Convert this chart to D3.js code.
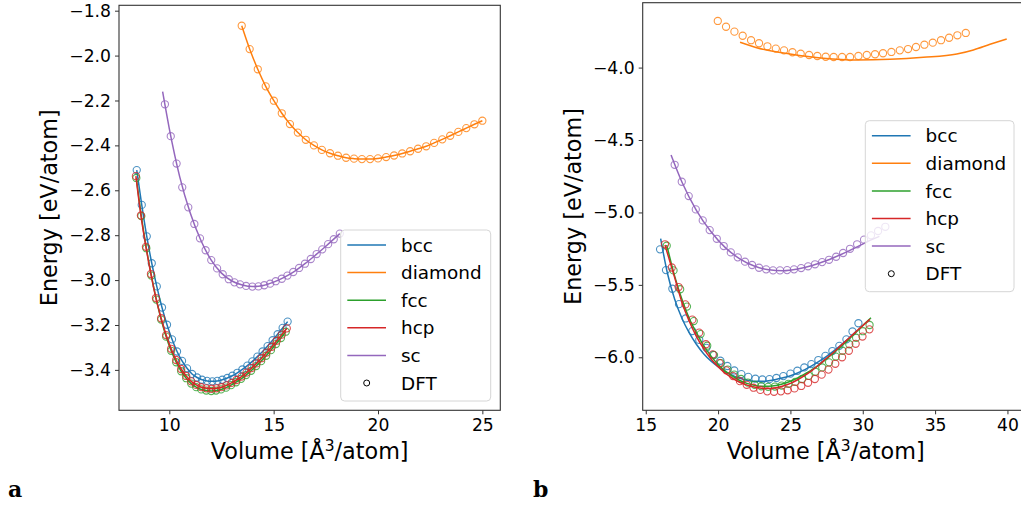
<!DOCTYPE html>
<html>
<head>
<meta charset="utf-8">
<script src="https://cdn.jsdelivr.net/npm/d3@7"></script>
<style>
  body { margin: 0; background: #fff; }
  text { font-family: "DejaVu Sans", sans-serif; fill: #000; }
</style>
</head>
<body>
<div id="chart"></div>
<script>
// structures + colours (matplotlib tab10)
var structures = ["bcc", "diamond", "fcc", "hcp", "sc"];
var colors = ["#1f77b4", "#ff7f0e", "#2ca02c", "#d62728", "#9467bd"];

// ---- panel a : DFT points ----
var aBccV = [8.44,8.68,8.92,9.16,9.40,9.65,9.89,10.13,10.37,10.61,10.85,11.09,11.33,11.57,11.81,12.06,12.30,12.54,12.78,13.02,13.26,13.50,13.74,13.98,14.22,14.47,14.71,14.95,15.19,15.43,15.67];
var aBccE = [-2.510,-2.665,-2.805,-2.925,-3.028,-3.122,-3.199,-3.264,-3.318,-3.360,-3.393,-3.418,-3.434,-3.444,-3.449,-3.451,-3.449,-3.444,-3.436,-3.426,-3.413,-3.398,-3.381,-3.362,-3.341,-3.318,-3.294,-3.268,-3.241,-3.213,-3.185];
var aDiamondV = [13.47,13.85,14.24,14.62,15.01,15.39,15.78,16.16,16.54,16.93,17.31,17.70,18.08,18.47,18.85,19.23,19.62,20.00,20.39,20.77,21.16,21.54,21.92,22.31,22.69,23.08,23.46,23.85,24.23,24.62,25.00];
var aDiamondE = [-1.867,-1.971,-2.061,-2.137,-2.201,-2.257,-2.305,-2.343,-2.375,-2.400,-2.420,-2.435,-2.446,-2.455,-2.459,-2.461,-2.461,-2.458,-2.452,-2.445,-2.436,-2.426,-2.415,-2.404,-2.389,-2.373,-2.357,-2.340,-2.323,-2.306,-2.290];
var aFccV = [8.42,8.66,8.90,9.14,9.38,9.61,9.85,10.09,10.33,10.57,10.81,11.05,11.29,11.53,11.77,12.01,12.24,12.48,12.72,12.96,13.20,13.44,13.68,13.92,14.16,14.40,14.64,14.87,15.11,15.35,15.58];
var aFccE = [-2.545,-2.715,-2.858,-2.980,-3.087,-3.176,-3.252,-3.315,-3.366,-3.406,-3.437,-3.461,-3.477,-3.487,-3.492,-3.494,-3.492,-3.487,-3.479,-3.468,-3.455,-3.440,-3.423,-3.404,-3.383,-3.361,-3.337,-3.312,-3.285,-3.258,-3.230];
var aHcpV = [8.40,8.64,8.88,9.12,9.36,9.61,9.85,10.09,10.33,10.57,10.81,11.05,11.29,11.53,11.77,12.02,12.26,12.50,12.74,12.98,13.22,13.46,13.70,13.94,14.18,14.42,14.66,14.91,15.15,15.39,15.63];
var aHcpE = [-2.537,-2.712,-2.852,-2.973,-3.080,-3.170,-3.245,-3.306,-3.356,-3.396,-3.427,-3.451,-3.467,-3.477,-3.482,-3.484,-3.482,-3.477,-3.469,-3.458,-3.445,-3.430,-3.412,-3.392,-3.371,-3.348,-3.323,-3.297,-3.270,-3.243,-3.215];
var aScV = [9.79,10.07,10.35,10.62,10.91,11.20,11.47,11.74,12.01,12.29,12.56,12.85,13.12,13.39,13.68,13.98,14.27,14.55,14.83,15.10,15.39,15.66,15.94,16.22,16.50,16.78,17.06,17.33,17.61,17.88,18.17];
var aScE = [-2.217,-2.359,-2.481,-2.587,-2.676,-2.750,-2.814,-2.867,-2.911,-2.948,-2.974,-2.996,-3.010,-3.019,-3.026,-3.029,-3.028,-3.023,-3.016,-3.005,-2.994,-2.980,-2.964,-2.946,-2.927,-2.906,-2.884,-2.863,-2.840,-2.818,-2.793];
// panel a : sc fit reaches a bit beyond the first point
var aScFitV = [9.68,10.0,10.5,11.0,11.5,12.0,12.5,13.0,13.5,14.0,14.5,15.0,15.5,16.0,16.5,17.0,17.5,18.17];
var aScFitE = [-2.161,-2.325,-2.540,-2.700,-2.820,-2.910,-2.969,-3.004,-3.022,-3.029,-3.024,-3.009,-2.988,-2.961,-2.927,-2.889,-2.849,-2.793];

// ---- panel b : DFT points ----
var bBccV = [15.99,16.40,16.84,17.30,17.76,18.22,18.70,19.19,19.67,20.16,20.64,21.12,21.61,22.09,22.58,23.06,23.55,24.03,24.51,25.00,25.48,25.96,26.45,26.93,27.42,27.90,28.38,28.87,29.29,29.70];
var bBccE = [-5.255,-5.398,-5.527,-5.633,-5.732,-5.819,-5.880,-5.935,-5.983,-6.024,-6.060,-6.091,-6.116,-6.135,-6.148,-6.153,-6.151,-6.143,-6.130,-6.113,-6.093,-6.070,-6.047,-6.019,-5.990,-5.957,-5.921,-5.876,-5.822,-5.765];
var bDiamondV = [19.98,20.55,21.13,21.70,22.28,22.83,23.41,23.99,24.56,25.14,25.71,26.29,26.86,27.44,27.99,28.57,29.12,29.70,30.28,30.85,31.40,31.98,32.56,33.13,33.68,34.26,34.84,35.41,35.97,36.54,37.12];
var bDiamondE = [-3.678,-3.718,-3.752,-3.780,-3.811,-3.832,-3.853,-3.869,-3.881,-3.894,-3.904,-3.913,-3.920,-3.925,-3.927,-3.927,-3.927,-3.920,-3.913,-3.908,-3.901,-3.892,-3.881,-3.872,-3.858,-3.842,-3.828,-3.811,-3.794,-3.777,-3.761];
var bFccV = [16.45,16.92,17.38,17.85,18.32,18.79,19.25,19.72,20.19,20.66,21.12,21.59,22.06,22.53,22.99,23.46,23.93,24.40,24.86,25.33,25.80,26.27,26.73,27.20,27.67,28.14,28.60,29.07,29.54,30.01,30.47];
var bFccE = [-5.230,-5.400,-5.530,-5.650,-5.750,-5.840,-5.920,-5.985,-6.040,-6.085,-6.120,-6.150,-6.175,-6.190,-6.200,-6.204,-6.202,-6.195,-6.183,-6.170,-6.150,-6.128,-6.100,-6.070,-6.035,-5.995,-5.955,-5.910,-5.865,-5.820,-5.777];
var bHcpV = [16.33,16.80,17.27,17.74,18.22,18.69,19.16,19.63,20.10,20.57,21.04,21.51,21.98,22.45,22.92,23.40,23.87,24.34,24.81,25.28,25.75,26.22,26.69,27.16,27.63,28.10,28.57,29.04,29.51,29.98,30.46];
var bHcpE = [-5.220,-5.380,-5.515,-5.635,-5.740,-5.830,-5.910,-5.980,-6.040,-6.090,-6.130,-6.165,-6.190,-6.210,-6.225,-6.235,-6.238,-6.235,-6.228,-6.215,-6.198,-6.176,-6.150,-6.120,-6.085,-6.045,-6.000,-5.955,-5.907,-5.857,-5.807];
var bScV = [17.00,17.49,17.97,18.46,18.94,19.42,19.91,20.39,20.88,21.36,21.86,22.35,22.83,23.32,23.80,24.28,24.77,25.25,25.74,26.22,26.70,27.19,27.67,28.16,28.64,29.12,29.61,30.09,30.57,31.06,31.56];
var bScE = [-4.671,-4.788,-4.887,-4.979,-5.055,-5.122,-5.182,-5.232,-5.276,-5.310,-5.340,-5.363,-5.382,-5.393,-5.400,-5.400,-5.398,-5.393,-5.384,-5.372,-5.358,-5.343,-5.327,-5.306,-5.280,-5.251,-5.220,-5.188,-5.158,-5.128,-5.099];

// ---- panel b : fitted curves ----
var bBccFitV = [16.03,16.5,17,17.5,18,18.5,19,19.5,20,20.5,21,21.5,22,22.5,23,23.5,24,24.5,25,25.5,26,26.5,27,27.5,28,28.5,29,29.6];
var bBccFitE = [-5.18,-5.42,-5.60,-5.73,-5.83,-5.91,-5.975,-6.025,-6.065,-6.10,-6.125,-6.145,-6.158,-6.165,-6.166,-6.162,-6.153,-6.141,-6.128,-6.108,-6.085,-6.058,-6.027,-5.993,-5.956,-5.916,-5.873,-5.815];
var bDiamondFitV = [21.52,22.67,24.97,27.28,29.58,31.89,34.19,36.50,37.65,38.80,39.95];
var bDiamondFitE = [-3.825,-3.863,-3.906,-3.936,-3.948,-3.943,-3.929,-3.906,-3.878,-3.839,-3.802];
var bFccFitV = [16.45,17,17.5,18,18.5,19,19.5,20,20.5,21,21.5,22,22.5,23,23.5,24,24.5,25,25.5,26,26.5,27,27.5,28,28.5,29,29.5,30,30.57];
var bFccFitE = [-5.225,-5.44,-5.60,-5.73,-5.83,-5.92,-5.99,-6.05,-6.095,-6.13,-6.16,-6.18,-6.193,-6.20,-6.20,-6.195,-6.183,-6.165,-6.143,-6.115,-6.085,-6.05,-6.01,-5.968,-5.925,-5.88,-5.83,-5.78,-5.727];
var bHcpFitV = [16.33,17,17.5,18,18.5,19,19.5,20,20.5,21,21.5,22,22.5,23,23.5,24,24.5,25,25.5,26,26.5,27,27.5,28,28.5,29,29.5,30,30.5];
var bHcpFitE = [-5.225,-5.45,-5.62,-5.75,-5.855,-5.94,-6.01,-6.065,-6.11,-6.145,-6.172,-6.192,-6.205,-6.213,-6.215,-6.21,-6.198,-6.18,-6.155,-6.125,-6.09,-6.05,-6.007,-5.965,-5.918,-5.872,-5.826,-5.781,-5.738];
var bScFitV = [16.75,17.5,18.5,19.5,20.5,21.5,22.5,23.5,24.5,25.5,26.5,27.5,28.5,29.5,30.5,31.15];
var bScFitE = [-4.604,-4.790,-4.985,-5.132,-5.243,-5.320,-5.370,-5.396,-5.402,-5.390,-5.366,-5.332,-5.290,-5.243,-5.193,-5.165];

// tick labels
var aXTicks = [10, 15, 20, 25];
var aYTicks = [-3.4, -3.2, -3.0, -2.8, -2.6, -2.4, -2.2, -2.0, -1.8];
var bXTicks = [15, 20, 25, 30, 35, 40];
var bYTicks = [-6.0, -5.5, -5.0, -4.5, -4.0];

function zip(v, e) { return v.map(function(d, i) { return {v: d, e: e[i]}; }); }

var panels = [
  {
    letter: "a", letterX: 8,
    box: {left: 119, right: 500.3, top: 5.3, bottom: 410.3},
    xDomain: [7.59, 25.86], yDomain: [-3.58, -1.776],
    xTicks: aXTicks, yTicks: aYTicks, yFmt: ".1f", ylabX: 57,
    fits: [[aBccV, aBccE], [aDiamondV, aDiamondE], [aFccV, aFccE], [aHcpV, aHcpE], [aScFitV, aScFitE]],
    dft: [[aBccV, aBccE], [aDiamondV, aDiamondE], [aFccV, aFccE], [aHcpV, aHcpE], [aScV, aScE]],
    legend: {x: 340.7, y: 230, w: 150, h: 171}
  },
  {
    letter: "b", letterX: 533,
    box: {left: 642.7, right: 1024.8, top: 2.7, bottom: 410.3},
    xDomain: [14.79, 41.2], yDomain: [-6.366, -3.552],
    xTicks: bXTicks, yTicks: bYTicks, yFmt: ".1f", ylabX: 581,
    fits: [[bBccFitV, bBccFitE], [bDiamondFitV, bDiamondFitE], [bFccFitV, bFccFitE], [bHcpFitV, bHcpFitE], [bScFitV, bScFitE]],
    dft: [[bBccV, bBccE], [bDiamondV, bDiamondE], [bFccV, bFccE], [bHcpV, bHcpE], [bScV, bScE]],
    legend: {x: 865.3, y: 120.7, w: 148.7, h: 171}
  }
];

var svg = d3.select("#chart").append("svg")
  .attr("width", 1021)
  .attr("height", 506);

panels.forEach(function(p, pi) {
  var x = d3.scaleLinear().domain(p.xDomain).range([p.box.left, p.box.right]);
  var y = d3.scaleLinear().domain(p.yDomain).range([p.box.bottom, p.box.top]);

  var clipId = "clip" + pi;
  svg.append("clipPath").attr("id", clipId).append("rect")
    .attr("x", p.box.left).attr("y", p.box.top)
    .attr("width", p.box.right - p.box.left).attr("height", p.box.bottom - p.box.top);

  var g = svg.append("g");
  var plot = g.append("g").attr("clip-path", "url(#" + clipId + ")");

  var line = d3.line()
    .x(function(d) { return x(d.v); })
    .y(function(d) { return y(d.e); })
    .curve(d3.curveMonotoneX);

  structures.forEach(function(s, i) {
    plot.append("path")
      .datum(zip(p.fits[i][0], p.fits[i][1]))
      .attr("d", line)
      .attr("fill", "none")
      .attr("stroke", colors[i])
      .attr("stroke-width", 1.5);

    plot.append("g").selectAll("circle")
      .data(zip(p.dft[i][0], p.dft[i][1]))
      .enter().append("circle")
      .attr("cx", function(d) { return x(d.v); })
      .attr("cy", function(d) { return y(d.e); })
      .attr("r", 3.6)
      .attr("fill", "none")
      .attr("stroke", colors[i])
      .attr("stroke-opacity", 0.8)
      .attr("stroke-width", 1.1);
  });

  // axes
  var xAxis = g.append("g")
    .attr("transform", "translate(0," + p.box.bottom + ")")
    .call(d3.axisBottom(x).tickValues(p.xTicks).tickSize(4).tickPadding(4).tickFormat(d3.format("d")));
  var yAxis = g.append("g")
    .attr("transform", "translate(" + p.box.left + ",0)")
    .call(d3.axisLeft(y).tickValues(p.yTicks).tickSize(4).tickPadding(4).tickFormat(d3.format(p.yFmt)));
  [xAxis, yAxis].forEach(function(a) {
    a.select(".domain").remove();
    a.selectAll(".tick line").attr("stroke", "#333").attr("stroke-width", 1);
    a.selectAll(".tick text")
      .style("font-family", "DejaVu Sans")
      .style("font-size", "17.2px")
      .attr("fill", "#000");
  });

  // frame
  g.append("rect")
    .attr("x", p.box.left).attr("y", p.box.top)
    .attr("width", p.box.right - p.box.left).attr("height", p.box.bottom - p.box.top)
    .attr("fill", "none").attr("stroke", "#333").attr("stroke-width", 1.1);

  // axis labels
  var xl = g.append("text")
    .attr("x", (p.box.left + p.box.right) / 2 - (pi === 1 ? 8 : 0))
    .attr("y", 459)
    .attr("text-anchor", "middle")
    .style("font-size", "22.3px");
  xl.append("tspan").text("Volume [Å");
  xl.append("tspan").attr("dy", -8).style("font-size", "15.5px").text("3");
  xl.append("tspan").attr("dy", 8).text("/atom]");

  g.append("text")
    .attr("transform", "translate(" + p.ylabX + "," + ((p.box.top + p.box.bottom) / 2) + ") rotate(-90)")
    .attr("text-anchor", "middle")
    .style("font-size", "22.3px")
    .text("Energy [eV/atom]");

  // panel letter
  g.append("text")
    .attr("x", p.letterX).attr("y", 497)
    .style("font-family", "'DejaVu Serif', serif")
    .style("font-weight", "bold")
    .style("font-size", "22px")
    .text(p.letter);

  // legend
  var L = p.legend;
  var lg = g.append("g");
  lg.append("rect")
    .attr("x", L.x).attr("y", L.y).attr("width", L.w).attr("height", L.h)
    .attr("rx", 4)
    .attr("fill", "#fff").attr("fill-opacity", 0.8)
    .attr("stroke", "#d6d6d6").attr("stroke-width", 1);
  var labels = structures.concat(["DFT"]);
  labels.forEach(function(lab, i) {
    var cy = L.y + 15 + i * 27.6;
    if (i < structures.length) {
      lg.append("line")
        .attr("x1", L.x + 6.6).attr("x2", L.x + 45.3)
        .attr("y1", cy).attr("y2", cy)
        .attr("stroke", colors[i]).attr("stroke-width", 1.5);
    } else {
      lg.append("circle")
        .attr("cx", L.x + 26).attr("cy", cy).attr("r", 3)
        .attr("fill", "none").attr("stroke", "#000").attr("stroke-width", 1);
    }
    lg.append("text")
      .attr("x", L.x + 60.3).attr("y", cy)
      .attr("dy", "0.36em")
      .style("font-size", "18.4px")
      .text(lab);
  });
});
</script>
</body>
</html>
